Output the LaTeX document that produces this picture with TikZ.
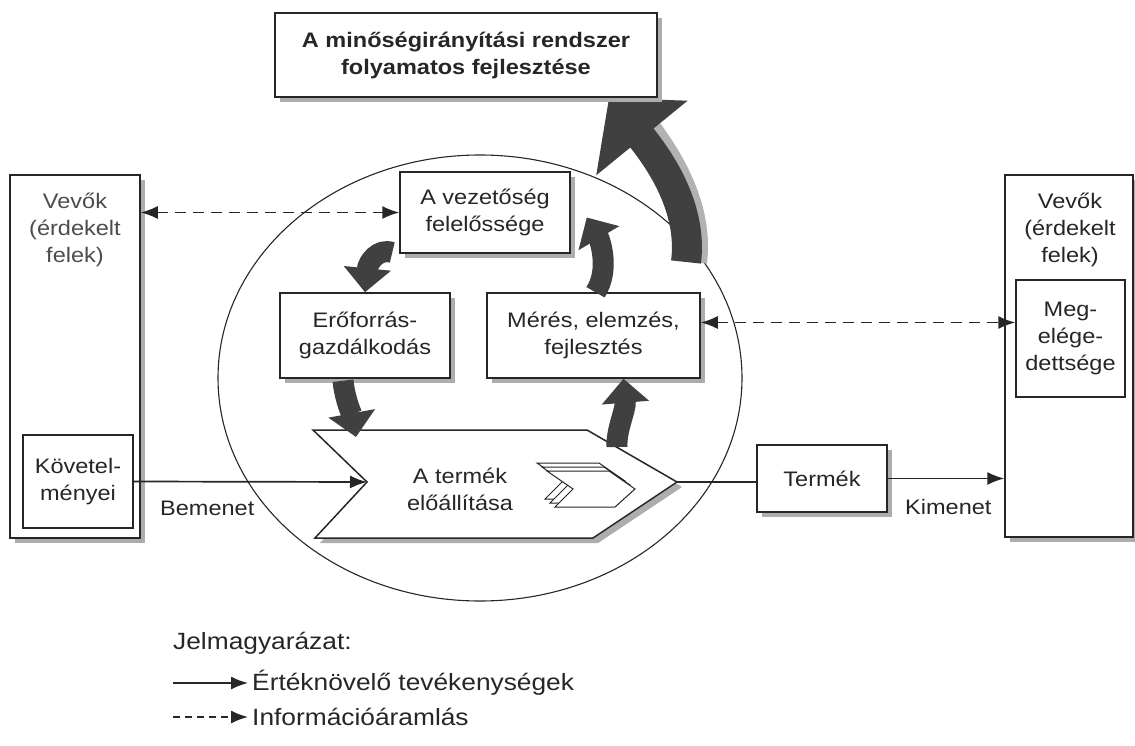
\documentclass[tikz,border=0pt]{standalone}
\usepackage{fontspec}
\setmainfont{Liberation Sans}[FakeStretch=1.12]
\usetikzlibrary{arrows.meta,positioning,shapes.geometric,shadows,backgrounds}
\newcommand\boxfont{\fontsize{21}{27}\selectfont}
\newcommand\headfont{\fontsize{21}{27}\selectfont\bfseries}
\newcommand\legfont{\fontsize{23.5}{28}\selectfont}
\tikzset{
  shade/.style={drop shadow={shadow xshift=5pt,shadow yshift=-5pt,fill=black!32,opacity=1}},
  inbox/.style={draw=black!85,fill=white,line width=1.5pt,align=center,inner sep=0pt,font=\boxfont,text=black!85},
  box/.style={inbox,shade},
  lbl/.style={inner sep=0pt,align=center,font=\boxfont,text=black!85},
  flow/.style={line width=1.7pt,draw=black!85,-{Latex[length=17pt,width=13pt]}},
  info/.style={line width=1.7pt,draw=black!85,{Latex[length=17pt,width=13pt]}-{Latex[length=17pt,width=13pt]},dash pattern=on 11pt off 7pt},
  fat/.style={line width=21pt,draw=black!75,-{Triangle[length=24pt,width=46pt]}}
}
\begin{document}
\begin{tikzpicture}[x=1pt,y=-1pt]
\useasboundingbox (0,0) rectangle (1135,746);
\node[box,font=\headfont,minimum width=382pt,minimum height=84pt] (top) at (466,55) {A minőségirányítási rendszer\\folyamatos fejlesztése};
\begin{scope}[on background layer]
\node[draw=black!85,line width=1.1pt,ellipse,minimum width=524pt,minimum height=446pt,inner sep=0pt] (ring) at (480,378) {};
\coordinate (bigtail) at (686,262);
\draw[line width=30pt,draw=black!30] ([xshift=6pt]bigtail) .. controls (698,215) and (676,170) .. (648,132);
\draw[fat,line width=30pt,-{Triangle[length=52pt,width=115pt]}] (bigtail) .. controls (692,215) and (668,170) .. ([xshift=143pt]top.south);
\end{scope}
\node[box,minimum width=170pt,minimum height=81pt] (vez) at (485,212.5) {A vezetőség\\felelőssége};
\node[box,minimum width=170pt,minimum height=85pt] (ero) at (365,335.5) {Erőforrás-\\gazdálkodás};
\node[box,minimum width=213pt,minimum height=85pt] (meres) at (593.5,335.5) {Mérés, elemzés,\\fejlesztés};
\path[draw=black!85,fill=white,line width=1.5pt,shade] (313,430) -- (587,430) -- (677,482) coordinate (chtip)
  -- (593,538) -- (315,538) -- (367,482) coordinate (chnotch) -- cycle;
\node[lbl] (prod) at (460,489) {A termék\\előállítása};
\foreach \d in {0,5,10}
  \draw[draw=black!85,fill=white,line width=1pt] (537+\d,463+0.8*\d) -- ++(62,0) -- ++(26,18) -- ++(-20,18) -- ++(-60,0) -- ++(18,-18) -- cycle;
\node[box,minimum width=130pt,minimum height=363pt] (lcust) at (75,356.5) {};
\node[lbl,text=black!70] (lname) at (75,230) {Vevők\\(érdekelt\\felek)};
\node[inbox,minimum width=110pt,minimum height=93pt] (req) at (78,481.5) {Követel-\\ményei};
\node[box,minimum width=128pt,minimum height=362pt] (rcust) at (1069,356) {};
\node[lbl] (rname) at (1070,230) {Vevők\\(érdekelt\\felek)};
\node[inbox,minimum width=109pt,minimum height=117pt] (sat) at (1070.5,338.5) {Meg-\\elége-\\dettsége};
\node[box,minimum width=130pt,minimum height=67pt] (prodout) at (822,478.5) {Termék};
\draw[flow] (req.east) -- (chnotch);
\node[lbl,anchor=west] (inlbl) at (160,508) {Bemenet};
\draw[line width=1.7pt,draw=black!85] (chtip) -- (chtip -| prodout.west);
\draw[flow] (prodout.east) -- (prodout.east -| rcust.west);
\node[lbl,anchor=west] (outlbl) at (905,507) {Kimenet};
\draw[info] (lcust.east |- vez.west) -- (vez.west);
\coordinate (mq) at ([yshift=13pt]meres.east);
\draw[info] (mq) -- (mq -| sat.west);
\coordinate (chin) at (356,437);
\coordinate (chout) at (617,447);
\draw[fat] ([xshift=-7pt]vez.205) .. controls (378,248) and (368,262) .. (ero.north);
\draw[fat] ([xshift=-22pt,yshift=-2pt]ero.south) .. controls (345,400) and (352,415) .. (chin);
\draw[fat] (chout) .. controls (616,430) and (626,410) .. ([xshift=30pt]meres.south);
\draw[fat] ([xshift=2pt]meres.north) .. controls (610,270) and (600,240) .. ([xshift=16pt,yshift=-5pt]vez.east);
\node[lbl,anchor=west,font=\legfont] (legtitle) at (173,643) {Jelmagyarázat:};
\node[lbl,anchor=west,font=\legfont] (leg1) at (252,683) {Értéknövelő tevékenységek};
\node[lbl,anchor=west,font=\legfont] (leg2) at (252,717) {Információáramlás};
\coordinate (l1) at (173,683);
\coordinate (l2) at (173,717);
\draw[flow] (l1) -- ([xshift=-4pt]leg1.west);
\draw[flow,dash pattern=on 7pt off 5pt] (l2) -- ([xshift=-4pt]leg2.west);
\end{tikzpicture}
\end{document}
